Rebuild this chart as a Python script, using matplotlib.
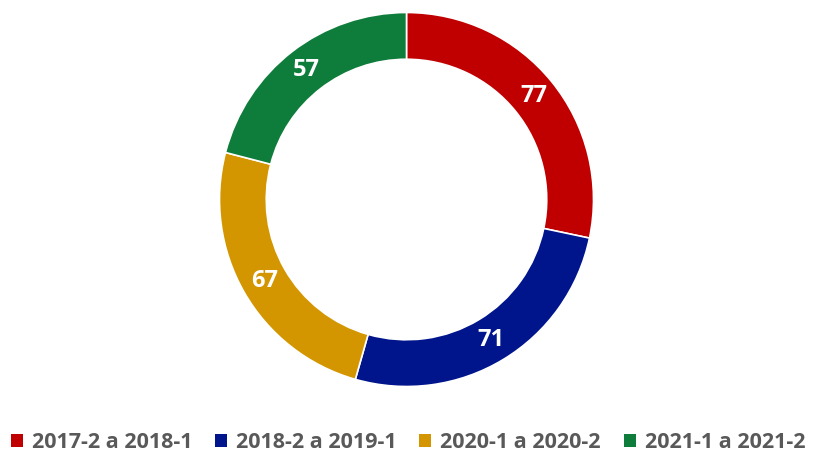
import matplotlib
matplotlib.use("Agg")
import matplotlib.pyplot as plt
from matplotlib.patches import Patch

categories = ["2017-2 a 2018-1", "2018-2 a 2019-1", "2020-1 a 2020-2", "2021-1 a 2021-2"]
values = [77, 71, 67, 57]
colors = ["#C00000", "#00148C", "#D39600", "#0E7C3A"]

plt.rcParams["font.family"] = ["Open Sans", "DejaVu Sans"]

W, H = 816, 454
fig = plt.figure(figsize=(W / 100, H / 100), dpi=100)

# donut centred at (406.5, 199.5) px with outer radius 187 px
cx, cy, r = 406.5, 199.5, 187
ax = fig.add_axes([(cx - r) / W, (H - cy - r) / H, 2 * r / W, 2 * r / H])

total = sum(values)
wedges, texts, autotexts = ax.pie(
    values,
    colors=colors,
    startangle=90,
    counterclock=False,
    radius=1.0,
    wedgeprops=dict(width=0.25, edgecolor="white", linewidth=1.2),
    autopct=lambda p: f"{round(p * total / 100)}",
    pctdistance=0.875,
    textprops=dict(color="white", fontsize=17, fontweight="bold"),
)
ax.set_xlim(-1, 1)
ax.set_ylim(-1, 1)
ax.set_aspect("equal")
ax.axis("off")

handles = [Patch(facecolor=c, edgecolor="none") for c in colors]
leg = fig.legend(
    handles, categories,
    loc="center", bbox_to_anchor=(0.5, 1 - 443 / H),
    ncol=4, frameon=False,
    handlelength=0.56, handleheight=0.56, handletextpad=0.42,
    columnspacing=1.05,
    prop=dict(size=15.5, weight="bold"),
)
for t in leg.get_texts():
    t.set_color("#595959")

fig.savefig("out.png", dpi=100, facecolor="white")
